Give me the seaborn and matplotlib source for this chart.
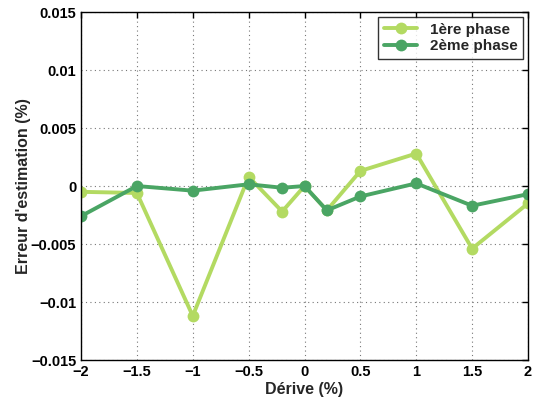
import matplotlib
matplotlib.use("Agg")
import matplotlib.pyplot as plt
import seaborn as sns
import pandas as pd

derive = [-2, -1.5, -1, -0.5, -0.2, 0, 0.2, 0.5, 1, 1.5, 2]
phase1 = [-0.0005, -0.0006, -0.0112, 0.0008, -0.0022, 0.0, -0.0021, 0.0013, 0.0028, -0.0054, -0.0015]
phase2 = [-0.0026, 0.0, -0.0004, 0.00015, -0.00015, 0.0, -0.0021, -0.0009, 0.00023, -0.0017, -0.0007]
labels = ["1ère phase", "2ème phase"]
colors = ["#b3da62", "#4aa564"]

sns.set_style("white")
plt.rcParams['font.family'] = ['Liberation Sans', 'DejaVu Sans']
plt.rcParams['font.weight'] = 'bold'

df = pd.DataFrame({
    "x": derive * 2,
    "y": phase1 + phase2,
    "phase": [labels[0]] * len(derive) + [labels[1]] * len(derive),
})

fig = plt.figure(figsize=(5.33, 4.01), dpi=100)
ax = fig.add_axes([0.152, 0.1022, 0.8386, 0.8678])
sns.lineplot(data=df, x="x", y="y", hue="phase", palette=colors, marker="o",
             markersize=8.5, markeredgewidth=0, linewidth=2.8, ax=ax, sort=False)

ax.set_xlim(-2, 2)
ax.set_ylim(-0.015, 0.015)
ax.set_xticks([-2, -1.5, -1, -0.5, 0, 0.5, 1, 1.5, 2])
ax.set_xticklabels(["\u22122", "\u22121.5", "\u22121", "\u22120.5", "0", "0.5", "1", "1.5", "2"])
ax.set_yticks([-0.015, -0.01, -0.005, 0, 0.005, 0.01, 0.015])
ax.set_yticklabels(["\u22120.015", "\u22120.01", "\u22120.005", "0", "0.005", "0.01", "0.015"])
ax.grid(True, linestyle=(0, (1, 3)), color="#777777", linewidth=0.8)
ax.tick_params(direction="in", length=4, labelsize=10.5, width=1, top=True, right=True, colors="black")
for lab in ax.get_xticklabels() + ax.get_yticklabels():
    lab.set_fontweight('bold')
for s in ax.spines.values():
    s.set_color("black")
    s.set_linewidth(1)
ax.set_xlabel("Dérive (%)", fontsize=11.5, fontweight='bold', labelpad=2)
ax.set_ylabel("Erreur d'estimation (%)", fontsize=11.5, fontweight='bold', labelpad=0)

leg = ax.legend(loc="upper right", frameon=True, fancybox=False, edgecolor="black",
                handlelength=2.2, borderaxespad=0.3, labelspacing=0.15,
                prop={'weight': 'bold', 'size': 11})
leg.get_frame().set_linewidth(1)

fig.savefig("out.png", dpi=100)
